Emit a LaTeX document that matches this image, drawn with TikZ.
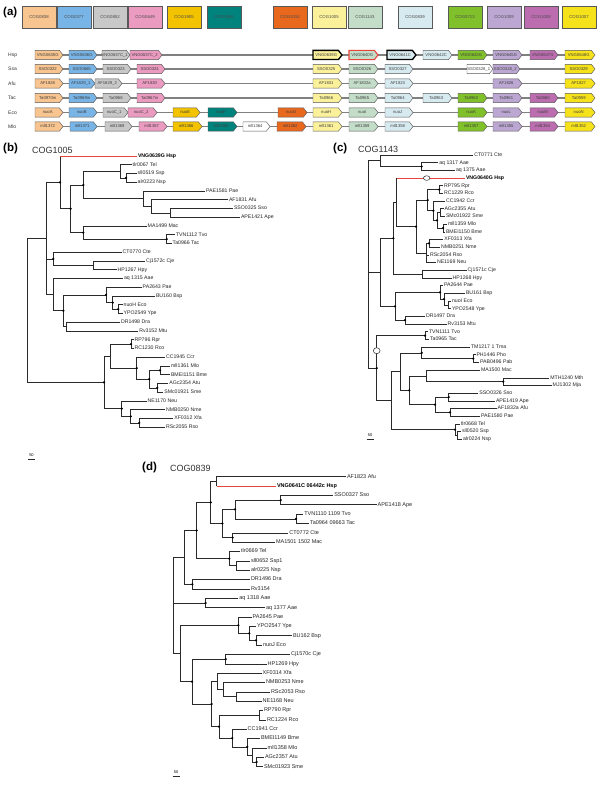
\documentclass[tikz,border=0pt]{standalone}
\usepackage{fontspec}
\setmainfont{Liberation Sans}
\definecolor{cA}{HTML}{F8C48F}
\definecolor{cB}{HTML}{78B4E6}
\definecolor{cC}{HTML}{C8C8C8}
\definecolor{cD}{HTML}{EB9AC0}
\definecolor{cE}{HTML}{F3C300}
\definecolor{cF}{HTML}{00827D}
\definecolor{cG}{HTML}{E8681E}
\definecolor{cH}{HTML}{FBF19B}
\definecolor{cI}{HTML}{C3DDC8}
\definecolor{cJ}{HTML}{D7EAF0}
\definecolor{cK}{HTML}{80C02A}
\definecolor{cL}{HTML}{BCA7D3}
\definecolor{cM}{HTML}{BC6DB0}
\definecolor{cN}{HTML}{F6E21B}
\definecolor{edgec}{HTML}{2A2A2A}
\definecolor{hspred}{HTML}{E8453C}
\newcounter{gc}
\newcommand\yb[1]{156+(#1-1)*8.75}
\newcommand\yc[1]{155+(#1-1)*7.684}
\newcommand\yd[1]{476.7+(#1-1)*9.355}
\newcommand\gene[6]{%
  \stepcounter{gc}%
  \path[fill=#4,#5] (#1,#3-4.6) -- (#2-3.6,#3-4.6) -- (#2,#3) -- (#2-3.6,#3+4.6) -- (#1,#3+4.6) -- cycle;
  \node[gtxt] (gene\arabic{gc}) at ({(#1+#2)/2-1.3},#3) {#6};}
\tikzset{
  br/.style={draw=edgec, line width=0.6pt},
  hbr/.style={draw=hspred, line width=0.7pt},
  lf/.style={anchor=west, inner sep=0.8pt, font=\fontsize{5.2}{6}\selectfont, text=black!85, text height=3.7pt, text depth=1pt},
  lfb/.style={lf, font=\fontsize{5.2}{6}\selectfont\bfseries, text=black},
  lfd/.style={lf, font=\fontsize{5.5}{6.5}\selectfont},
  lfdb/.style={lf, font=\fontsize{5.5}{6.5}\selectfont\bfseries, text=black},
  gtxt/.style={inner sep=0pt, font=\fontsize{4.2}{4.5}\selectfont, text=black!75},
  gb/.style={draw=black!65, line width=0.45pt},
  gk/.style={draw=black, line width=1.3pt},
  gr/.style={draw=hspred, line width=1.1pt},
  legbox/.style={draw=black!65, line width=0.7pt, minimum width=34pt, minimum height=22pt, inner sep=0pt, font=\fontsize{4.3}{5}\selectfont, text=black!70},
  sp/.style={anchor=west, inner sep=0pt, font=\fontsize{5}{6}\selectfont, text=black!80},
  pan/.style={anchor=west, inner sep=0pt, font=\fontsize{11.5}{13}\selectfont\bfseries},
  ttl/.style={anchor=west, inner sep=0pt, font=\fontsize{9}{10}\selectfont, text=black!80},
  sc/.style={inner sep=0pt, font=\fontsize{4}{5}\selectfont},
  bbone/.style={draw=black!50, line width=1.2pt}
}
\begin{document}
\begin{tikzpicture}[x=1pt,y=-1pt]
\fill[white] (0,0) rectangle (600,786);
\useasboundingbox (0,0) rectangle (600,786);

% ---------------- (a) legend
\node[pan] (pa) at (3,13) {(a)};
\foreach \x/\c/\t in {22/cA/COG0838, 57/cB/COG0377, 93/cC/COG0852, 128/cD/COG0649, 167/cE/COG1905, 207/cF/COG1894, 273/cG/COG1034, 312/cH/COG1005, 348/cI/COG1143, 398/cJ/COG0839, 448/cK/COG0713, 487/cL/COG1009, 524/cM/COG1008, 562/cN/COG1007}
  \node[legbox, fill=\c] (L\t) at (\x+17,17) {\t};

% species labels
\foreach \y/\t in {55/Hsp, 69/Ssa, 83.5/Afu, 98/Tac, 112.5/Eco, 126.5/Mlo}
  \node[sp] (sp\t) at (8,\y) {\t};
% backbones
\foreach \y in {55, 69, 83.5, 98, 112.5, 126.5}
  \draw[bbone] (36,\y) -- (594,\y);

% Hsp
\gene{35}{63}{55}{cA}{gb}{VNG0635G}
\gene{69}{97}{55}{cB}{gb}{VNG0636G}
\gene{102}{130}{55}{cC}{gb}{VNG0637C\_1}
\gene{130}{162}{55}{cD}{gb}{VNG0637C\_2}
\gene{313}{342}{55}{cH}{gk}{VNG0639G}
\gene{349}{378}{55}{cI}{gr}{VNG0640G}
\gene{387}{416}{55}{cJ}{gk}{VNG0641C}
\gene{423}{452}{55}{cJ}{gb}{VNG0642C}
\gene{458}{487}{55}{cK}{gb}{VNG0643G}
\gene{493}{522}{55}{cL}{gb}{VNG0645G}
\gene{530}{558}{55}{cM}{gb}{VNG0647G}
\gene{565}{595}{55}{cN}{gb}{VNG0648G}
% Ssa
\gene{35}{63}{69}{cA}{gb}{SSO0322}
\gene{69}{97}{69}{cB}{gb}{SSO0665}
\gene{103}{131}{69}{cC}{gb}{SSO0323}
\gene{137}{165}{69}{cD}{gb}{SSO0324}
\gene{313}{342}{69}{cH}{gb}{SSO0325}
\gene{349}{378}{69}{cI}{gb}{SSO0326}
\gene{385}{413}{69}{cJ}{gb}{SSO0327}
\gene{467}{493}{69}{white}{gb}{SSO0328\_1}
\gene{493}{520}{69}{cL}{gb}{SSO0328\_2}
\gene{565}{595}{69}{cN}{gb}{SSO0329}
% Afu
\gene{35}{63}{83.5}{cA}{gb}{AF1828}
\gene{69}{95}{83.5}{cB}{gb}{AF1829\_1}
\gene{95}{122}{83.5}{cC}{gb}{AF1829\_2}
\gene{137}{165}{83.5}{cD}{gb}{AF1830}
\gene{313}{342}{83.5}{cH}{gb}{AF1831}
\gene{349}{378}{83.5}{cI}{gb}{AF1832a}
\gene{385}{413}{83.5}{cJ}{gb}{AF1823}
\gene{493}{522}{83.5}{cL}{gb}{AF1826}
\gene{565}{595}{83.5}{cN}{gb}{AF1827}
% Tac
\gene{35}{63}{98}{cA}{gb}{Ta0970m}
\gene{69}{97}{98}{cB}{gb}{Ta0969m}
\gene{103}{131}{98}{cC}{gb}{Ta0968}
\gene{137}{165}{98}{cD}{gb}{Ta0967m}
\gene{313}{342}{98}{cH}{gb}{Ta0966}
\gene{349}{378}{98}{cI}{gb}{Ta0965}
\gene{385}{413}{98}{cJ}{gb}{Ta0964}
\gene{423}{452}{98}{cJ}{gb}{Ta0963}
\gene{458}{487}{98}{cK}{gb}{Ta0962}
\gene{493}{522}{98}{cL}{gb}{Ta0961}
\gene{530}{558}{98}{cM}{gb}{Ta0960}
\gene{565}{595}{98}{cN}{gb}{Ta0959}
% Eco
\gene{35}{63}{112.5}{cA}{gb}{nuoA}
\gene{69}{97}{112.5}{cB}{gb}{nuoB}
\gene{103}{128}{112.5}{cC}{gb}{nuoC\_1}
\gene{128}{157}{112.5}{cD}{gb}{nuoC\_2}
\gene{173}{200}{112.5}{cE}{gb}{nuoE}
\gene{208}{237}{112.5}{cF}{gb}{nuoF}
\gene{278}{307}{112.5}{cG}{gb}{nuoG}
\gene{313}{342}{112.5}{cH}{gb}{nuoH}
\gene{349}{378}{112.5}{cI}{gb}{nuoI}
\gene{385}{413}{112.5}{cJ}{gb}{nuoJ}
\gene{458}{487}{112.5}{cK}{gb}{nuoK}
\gene{493}{522}{112.5}{cL}{gb}{nuoL}
\gene{530}{558}{112.5}{cM}{gb}{nuoM}
\gene{565}{595}{112.5}{cN}{gb}{nuoN}
% Mlo
\gene{35}{63}{126.5}{cA}{gb}{mll1372}
\gene{70}{97}{126.5}{cB}{gb}{mll1371}
\gene{105}{132}{126.5}{cC}{gb}{mll1369}
\gene{139}{167}{126.5}{cD}{gb}{mll1367}
\gene{173}{202}{126.5}{cE}{gb}{mll1366}
\gene{208}{237}{126.5}{cF}{gb}{mll1365}
\gene{243}{270}{126.5}{white}{gb}{mll1364}
\gene{277}{306}{126.5}{cG}{gb}{mll1362}
\gene{313}{342}{126.5}{cH}{gb}{mll1361}
\gene{349}{378}{126.5}{cI}{gb}{mll1359}
\gene{385}{413}{126.5}{cJ}{gb}{mll1358}
\gene{458}{487}{126.5}{cK}{gb}{mll1357}
\gene{493}{522}{126.5}{cL}{gb}{mll1355}
\gene{530}{558}{126.5}{cM}{gb}{mll1354}
\gene{565}{595}{126.5}{cN}{gb}{mll1352}

% ---------------- (b) COG1005
\node[pan] (pb) at (3,149) {(b)};
\node[ttl] (tb) at (32,150) {COG1005};
\node[lfb] (b1) at (137,{\yb{1}}) {VNG0639G Hsp};
\foreach \i/\x/\t in {2/131.7/tlr0067 Tel, 3/136.7/sll0519 Ssp, 4/136.7/alr0223 Nsp, 5/205/PAE1581 Pae, 6/228/AF1831 Afu, 7/233/SSO0325 Sso, 8/240/APE1421 Ape, 9/146.7/MA1499 Mac, 10/175/TVN1112 Tvo, 11/171.7/Ta0966 Tac, 12/121.7/CT0770 Cte, 13/145/Cj1572c Cje, 14/116.7/HP1267 Hpy, 15/123/aq 1315 Aae, 16/141.7/PA2643 Pae, 17/155/BU160 Bsp, 18/122.7/nuoH Eco, 19/122.7/YPO2549 Ype, 20/120/DR1498 Dra, 21/138.3/Rv3152 Mtu, 22/133.5/RP796 Rpr, 23/133.5/RC1230 Rco, 24/165/CC1945 Ccr, 25/170/mll1361 Mlo, 26/170/BMEI1151 Bme, 27/168.3/AGc2354 Atu, 28/163.3/SMc01921 Sme, 29/146.7/NE1170 Neu, 30/165/NMB0250 Nme, 31/173.3/XF0312 Xfa, 32/165/RSc2055 Rso}
  \node[lf] (b\i) at (\x,{\yb{\i}}) {\t};
\foreach \n/\x/\i in {bR/27/18.65, bP/46.7/10.43, bA/60/4.016, bB/70.7/7.03, bC/83.3/4.3125, bE/120.7/2.75, bF/126/3.5, bG/143.3/5.875, bH/151.7/6.75, bI/170/7.5, bD/83.3/9.75, bJ/166.7/10.5, bK/53.3/12.75, bL/93.3/13.5, bM/53.3/16.84, bAA/63.3/18.6875, bN/106/16.875, bO/112.7/17.75, bQ/118.3/18.5, bBB/66/20.5, bZ/104/26.875, bRR/110/23.875, bRP/131/22.5, bS/136.7/25.25, bT/149.3/26.5, bU/160/25.5, bV/157.3/27.5, bW/121.7/29.875, bX/130.7/30.75, bY/139.3/31.5}
  \coordinate (\n) at (\x,{\yb{\i}});
\foreach \p/\c in {bR/bP, bR/bZ, bP/bA, bP/bK, bP/bM, bA/bB, bB/bC, bB/bD, bC/bE, bC/bG, bE/b2.west, bE/bF, bF/b3.west, bF/b4.west, bG/b5.west, bG/bH, bH/b6.west, bH/bI, bI/b7.west, bI/b8.west, bD/b9.west, bD/bJ, bJ/b10.west, bJ/b11.west, bK/b12.west, bK/bL, bL/b13.west, bL/b14.west, bM/b15.west, bM/bAA, bAA/bN, bAA/bBB, bN/b16.west, bN/bO, bO/b17.west, bO/bQ, bQ/b18.west, bQ/b19.west, bBB/b20.west, bBB/b21.west, bZ/bRR, bZ/bW, bRR/bRP, bRR/bS, bRP/b22.west, bRP/b23.west, bS/b24.west, bS/bT, bT/bU, bT/bV, bU/b25.west, bU/b26.west, bV/b27.west, bV/b28.west, bW/b29.west, bW/bX, bX/b30.west, bX/bY, bY/b31.west, bY/b32.west}
  \draw[br] (\p) |- (\c);
\draw[br] (bA) -- (bA |- b1.west);
\draw[hbr] (bA |- b1.west) -- (b1.west);
\foreach \n in {bA, bB, bC, bD, bF, bJ, bK, bN, bO, bQ, bAA, bRP, bS, bT, bU, bV, bZ, bW, bX, bY}
  \fill[black] (\n) circle (1.25pt);
\node[sc] (sb) at (31.5,455) {50};
\draw[br] (28,459) -- (35,459);

% ---------------- (c) COG1143
\node[pan] (pc) at (333,149) {(c)};
\node[ttl] (tc) at (358,149) {COG1143};
\node[lfb] (c4) at (465,{\yc{4}}) {VNG0640G Hsp};
\foreach \i/\x/\t in {1/473.3/CT0771 Cte, 2/438.3/aq 1317 Aae, 3/455/aq 1375 Aae, 5/443/RP795 Rpr, 6/443/RC1229 Rco, 7/445/CC1942 Ccr, 8/443.5/AGc2355 Atu, 9/445/SMc01922 Sme, 10/447/mll1359 Mlo, 11/445/BMEI1150 Bme, 12/443.3/XF0313 Xfa, 13/440/NMB0251 Nme, 14/429/RSc2054 Rso, 15/436/NE1169 Neu, 16/466.7/Cj1571c Cje, 17/451.7/HP1268 Hpy, 18/443/PA2644 Pae, 19/465/BU161 Bsp, 20/451/nuoI Eco, 21/451/YPO2548 Ype, 22/425/DR1497 Dra, 23/446.7/Rv3153 Mtu, 24/428/TVN1111 Tvo, 25/429/Ta0965 Tac, 26/470/TM1217 1 Tma, 27/475.5/PH1446 Pho, 28/479/PAB0496 Pab, 29/480/MA1500 Mac, 30/549.3/MTH1240 Mth, 31/551.7/MJ1302 Mja, 32/478.3/SSO0326 Sso, 33/495/APE1419 Ape, 34/496.7/AF1832a Afu, 35/480/PAE1580 Pae, 36/460/tlr0668 Tel, 37/461/sll0520 Ssp, 38/462/alr0224 Nsp}
  \node[lf] (c\i) at (\x,{\yc{\i}}) {\t};
\foreach \n/\x/\i in {cR/368.3/15.24, cCA/380/1.75, caq/421.7/2.5, cnu/380/16.26, cmu/393.3/11.83, cHB/396.7/7.156, calpha/416/10.3125, cbeta/427.7/6.875, cRP/439.3/5.5, cdelta/433.3/8.25, ceps/437/9.5, ceta/440/8.5, ctheta/443/10.5, cgamma/426.7/13.75, ckappa/429/12.5, cCj/422.7/16.5, cxi/395/20.69, cpi/440/18.875, crho/444/19.75, csigma/448/20.5, ctau/405/22.5, comi/376.7/28.73, cTV/425/24.5, cphi/391.7/32.97, cchi/400.7/29.19, cpsi/421.7/26.75, cPH/473.3/27.5, comega/409.3/31.625, cwa/426/29.75, cMT/503.3/30.5, cwb/435/33.5, cSS/448.7/32.5, cAF/450/34.5, ccy/455/36.75, ccyb/457.5/37.5}
  \coordinate (\n) at (\x,{\yc{\i}});
\foreach \p/\c in {cR/cCA, cR/cnu, cR/comi, cCA/c1.west, cCA/caq, caq/c2.west, caq/c3.west, cnu/cmu, cnu/cxi, cmu/cHB, cmu/cCj, cHB/calpha, calpha/cbeta, calpha/cgamma, cbeta/cRP, cbeta/cdelta, cRP/c5.west, cRP/c6.west, cdelta/c7.west, cdelta/ceps, ceps/ceta, ceps/ctheta, ceta/c8.west, ceta/c9.west, ctheta/c10.west, ctheta/c11.west, cgamma/ckappa, cgamma/c14.west, cgamma/c15.west, ckappa/c12.west, ckappa/c13.west, cCj/c16.west, cCj/c17.west, cxi/cpi, cxi/ctau, cpi/c18.west, cpi/crho, crho/c19.west, crho/csigma, csigma/c20.west, csigma/c21.west, ctau/c22.west, ctau/c23.west, comi/cTV, comi/cphi, cTV/c24.west, cTV/c25.west, cphi/cchi, cphi/ccy, cchi/cpsi, cchi/comega, cpsi/c26.west, cpsi/cPH, cPH/c27.west, cPH/c28.west, comega/cwa, comega/cwb, cwa/c29.west, cwa/cMT, cMT/c30.west, cMT/c31.west, cwb/cSS, cwb/cAF, cSS/c32.west, cSS/c33.west, cAF/c34.west, cAF/c35.west, ccy/c36.west, ccy/ccyb, ccyb/c37.west, ccyb/c38.west}
  \draw[br] (\p) |- (\c);
\draw[br] (cHB) -- (cHB |- c4.west);
\draw[hbr] (cHB |- c4.west) -- (c4.west);
\foreach \n in {caq, cRP, cbeta, cdelta, ceps, ctheta, calpha, ckappa, cmu, cpi, crho, ctau, cxi, cTV, cpsi, cPH, cMT, comega, cwb, cSS, cAF, ccy, comi}
  \fill[black] (\n) circle (1.25pt);
\draw[fill=white, draw=edgec, line width=0.5pt] (426.7,{\yc{4}}) ellipse (3.3pt and 2.3pt);
\draw[fill=white, draw=edgec, line width=0.5pt] (376.7,350.7) ellipse (3.4pt and 3pt);
\node[sc] (scc) at (370,435) {50};
\draw[br] (366.5,439) -- (373.5,439);

% ---------------- (d) COG0839
\node[pan] (pd) at (142,468) {(d)};
\node[ttl] (td) at (170,468) {COG0839};
\node[lfdb] (d2) at (276,{\yd{2}}) {VNG0641C 06442c Hsp};
\foreach \i/\x/\t in {1/346/AF1823 Afu, 3/333.3/SSO0327 Sso, 4/376.7/APE1418 Ape, 5/303.3/TVN1110 1109 Tvo, 6/309/Ta0964 09663 Tac, 7/288.3/CT0772 Cte, 8/275/MA1501 1502 Mac, 9/240/tlr0669 Tel, 10/250/sll0652 Ssp1, 11/250/alr0225 Nsp, 12/250/DR1496 Dra, 13/250/Rv3154, 14/238.3/aq 1318 Aae, 15/265/aq 1377 Aae, 16/251.7/PA2645 Pae, 17/256/YPO2547 Ype, 18/292/BU162 Bsp, 19/262/nuoJ Eco, 20/290/Cj1570c Cje, 21/266.7/HP1269 Hpy, 22/261.7/XF0314 Xfa, 23/265/NMB0253 Nme, 24/270/RSc2053 Rso, 25/261.7/NE1168 Neu, 26/263/RP790 Rpr, 27/266/RC1224 Rco, 28/246.7/CC1941 Ccr, 29/260/BMEI1149 Bme, 30/266.7/mll1358 Mlo, 31/264/AGc2357 Atu, 32/263/SMc01923 Sme}
  \node[lfd] (d\i) at (\x,{\yd{\i}}) {\t};
\foreach \n/\x/\i in {dR/173.3/14.5, da11/184/9.625, da8/196.7/6.75, da2/210.7/3.75, da1/216.7/1.5, da3/222.3/6, da4/235/4.5, da5/280.7/3.5, da6/296/5.5, da7/232.7/7.5, da9/229.3/9.75, da10/236.7/10.5, da12/192.3/12.5, daq/205.7/14.5, da14/180/19.89, da16/238.3/16.875, da17/249.3/17.75, da18/256/18.5, da15/192/22.9, dCj/225.7/20.5, da19/211.7/25.3, da20/217.3/22.875, da21/223.3/23.75, da22/236/24.5, da23/219/27.72, dRP/259.3/26.5, da24/232.3/28.94, da25/247.3/29.875, da26/252.7/30.75, da27/256.7/31.5}
  \coordinate (\n) at (\x,{\yd{\i}});
\foreach \p/\c in {dR/da11, dR/daq, dR/da14, da11/da8, da11/da12, da8/da2, da8/da9, da2/da1, da2/da3, da1/d1.west, da3/da4, da3/da7, da4/da5, da4/da6, da5/d3.west, da5/d4.west, da6/d5.west, da6/d6.west, da7/d7.west, da7/d8.west, da9/d9.west, da9/da10, da10/d10.west, da10/d11.west, da12/d12.west, da12/d13.west, daq/d14.west, daq/d15.west, da14/da16, da14/da15, da16/d16.west, da16/da17, da17/d17.west, da17/da18, da18/d18.west, da18/d19.west, da15/dCj, da15/da19, dCj/d20.west, dCj/d21.west, da19/da20, da19/da23, da20/d22.west, da20/da21, da21/d23.west, da21/da22, da22/d24.west, da22/d25.west, da23/dRP, da23/da24, dRP/d26.west, dRP/d27.west, da24/d28.west, da24/da25, da25/d29.west, da25/da26, da26/d30.west, da26/da27, da27/d31.west, da27/d32.west}
  \draw[br] (\p) |- (\c);
\draw[br] (da1) -- (da1 |- d2.west);
\draw[hbr] (da1 |- d2.west) -- (d2.west);
\foreach \n in {da2, da3, da4, da5, da6, da7, da8, da9, da12, daq, da16, da17, da18, dCj, da15, da19, da23, da24, da25, da27}
  \fill[black] (\n) circle (1.25pt);
\node[sc] (scd) at (176,772.5) {50};
\draw[br] (172.5,776.5) -- (179.5,776.5);
\end{tikzpicture}
\end{document}
